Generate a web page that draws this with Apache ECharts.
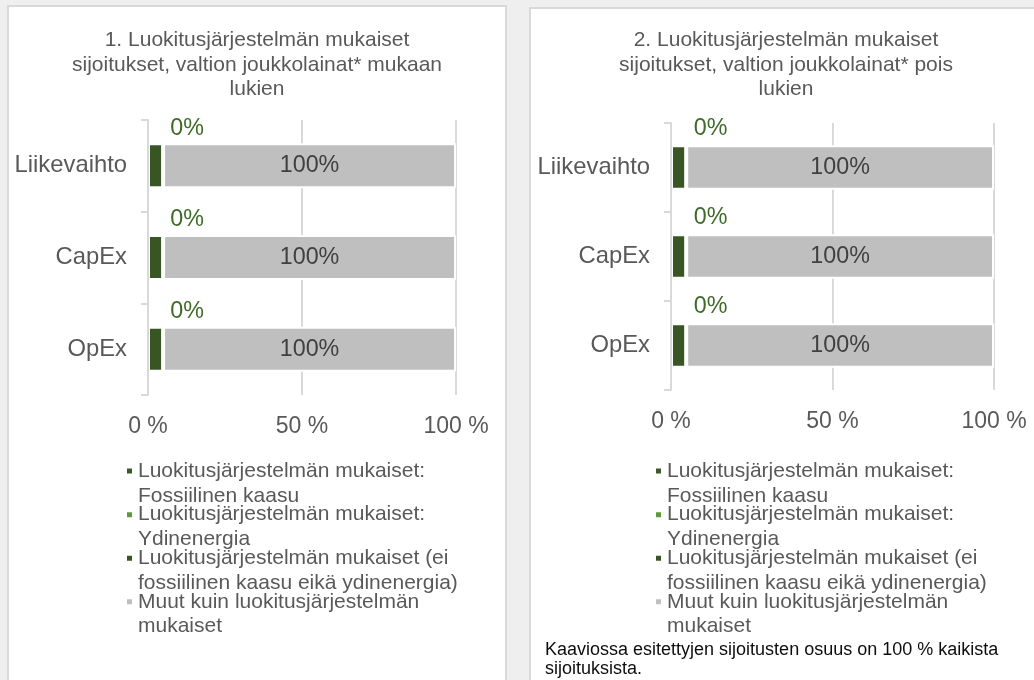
<!DOCTYPE html>
<html>
<head>
<meta charset="utf-8">
<script src="https://cdn.jsdelivr.net/npm/echarts@6/dist/echarts.min.js"></script>
<style>
  html, body { margin: 0; padding: 0; width: 1034px; height: 680px; overflow: hidden; background: #efefef; }
  .panel { position: absolute; box-sizing: border-box; border: 2px solid #d9d9d9; background: #fff; height: 700px; }
  #panel1 { left: 7px; top: 5px; width: 500px; }
  #panel2 { left: 529px; top: 7px; width: 514px; }
  .chart { position: absolute; left: 0; top: 0; width: 100%; height: 680px; }
</style>
</head>
<body>
<div class="panel" id="panel1"><div class="chart" id="chart1"></div></div>
<div class="panel" id="panel2"><div class="chart" id="chart2"></div></div>
<script>
// kategoriat ja sarjat
const categories = ['Liikevaihto', 'CapEx', 'OpEx'];
const seriesNames = [
  'Luokitusjärjestelmän mukaiset:\nFossiilinen kaasu',
  'Luokitusjärjestelmän mukaiset:\nYdinenergia',
  'Luokitusjärjestelmän mukaiset (ei\nfossiilinen kaasu eikä ydinenergia)',
  'Muut kuin luokitusjärjestelmän\nmukaiset',
];
const seriesColors = ['#3a5a26', '#5e9a3c', '#375623', '#bfbfbf'];
const xTicks = [0, 50, 100];

// 1. valtion joukkolainat mukaan lukien
const gas1 = [0, 0, 0];
const nuclear1 = [0, 0, 0];
const aligned1 = [4.9, 4.9, 4.9];
const other1 = [95.1, 95.1, 95.1];
const alignedLabels1 = ['0%', '0%', '0%'];
const otherLabels1 = ['100%', '100%', '100%'];

// 2. valtion joukkolainat pois lukien
const gas2 = [0, 0, 0];
const nuclear2 = [0, 0, 0];
const aligned2 = [4.7, 4.7, 4.7];
const other2 = [95.3, 95.3, 95.3];
const alignedLabels2 = ['0%', '0%', '0%'];
const otherLabels2 = ['100%', '100%', '100%'];

const title1 = '1. Luokitusjärjestelmän mukaiset\nsijoitukset, valtion joukkolainat* mukaan\nlukien';
const title2 = '2. Luokitusjärjestelmän mukaiset\nsijoitukset, valtion joukkolainat* pois\nlukien';
const footnote = 'Kaaviossa esitettyjen sijoitusten osuus on 100 % kaikista\nsijoituksista.';

const FONT = "'Liberation Sans', Arial, sans-serif";
const TEXT = '#595959';
const LINE = '#d9d9d9';

function makeOption(cfg) {
  const values = [cfg.gas, cfg.nuclear, cfg.aligned, cfg.other];
  const series = values.map((data, i) => {
    const s = {
      name: seriesNames[i],
      type: 'bar',
      stack: 'total',
      data,
      barWidth: cfg.barWidth,
      itemStyle: { color: seriesColors[i], borderColor: '#fff', borderWidth: 2 },
      label: { show: false },
      emphasis: { disabled: true },
    };
    if (i === 2) {
      s.label = {
        show: true,
        position: 'top',
        distance: cfg.labelDistance,
        offset: [cfg.labelOffset, 0],
        color: '#3e6b28',
        fontFamily: FONT,
        fontSize: 23.3,
        lineHeight: 24,
        formatter: (p) => cfg.alignedLabels[p.dataIndex],
      };
    }
    if (i === 3) {
      s.label = {
        show: true,
        position: 'inside',
        color: '#404040',
        fontFamily: FONT,
        fontSize: 23.3,
        formatter: (p) => cfg.otherLabels[p.dataIndex],
      };
    }
    return s;
  });

  const titles = [{
    text: cfg.title,
    left: 'center',
    top: cfg.titleTop,
    padding: 0,
    textStyle: { fontFamily: FONT, fontSize: 21, fontWeight: 'normal', color: TEXT, lineHeight: 24.5 },
  }];
  if (cfg.footnote) {
    titles.push({
      text: cfg.footnote,
      left: 14,
      top: 632,
      textAlign: 'left',
      padding: 0,
      textStyle: { fontFamily: FONT, fontSize: 18, fontWeight: 'normal', color: '#0d0d0d', lineHeight: 19 },
    });
  }

  return {
    animation: false,
    title: titles,
    legend: {
      orient: 'vertical',
      left: cfg.legendLeft,
      top: cfg.legendTop,
      padding: 0,
      itemGap: -30.5,
      itemWidth: 7,
      itemHeight: 7,
      icon: 'rect',
      selectedMode: false,
      data: seriesNames,
      // tyhjä rivi ensin, jotta merkki osuu ensimmäisen rivin kohdalle
      formatter: (name) => '\n' + name,
      textStyle: {
        fontFamily: FONT,
        fontSize: 21,
        color: TEXT,
        lineHeight: 24.7,
      },
    },
    grid: {
      left: cfg.grid.left,
      top: cfg.grid.top,
      width: cfg.grid.width,
      height: cfg.grid.height,
      outerBoundsMode: 'none',
    },
    xAxis: {
      type: 'value',
      min: xTicks[0],
      max: xTicks[xTicks.length - 1],
      interval: xTicks[1] - xTicks[0],
      axisLine: { show: false },
      axisTick: { show: false },
      splitLine: { show: true, lineStyle: { color: LINE, width: 2 } },
      axisLabel: {
        margin: 20,
        color: TEXT,
        fontFamily: FONT,
        fontSize: 23,
        formatter: '{value} %',
      },
    },
    yAxis: {
      type: 'category',
      inverse: true,
      data: categories,
      z: 5,
      axisLine: { show: true, lineStyle: { color: LINE, width: 2 } },
      axisTick: { show: true, length: 7, lineStyle: { color: LINE, width: 2 } },
      axisLabel: { margin: 21, color: TEXT, fontFamily: FONT, fontSize: 23.8 },
      splitLine: { show: false },
    },
    series,
  };
}

const chart1 = echarts.init(document.getElementById('chart1'));
chart1.setOption(makeOption({
  title: title1,
  titleTop: 21,
  gas: gas1, nuclear: nuclear1, aligned: aligned1, other: other1,
  alignedLabels: alignedLabels1, otherLabels: otherLabels1,
  grid: { left: 139, top: 113, width: 308, height: 275 },
  barWidth: 45,
  labelDistance: 3,
  labelOffset: 31.5,
  legendLeft: 116,
  legendTop: 427,
}));

const chart2 = echarts.init(document.getElementById('chart2'));
chart2.setOption(makeOption({
  title: title2,
  titleTop: 19,
  footnote,
  gas: gas2, nuclear: nuclear2, aligned: aligned2, other: other2,
  alignedLabels: alignedLabels2, otherLabels: otherLabels2,
  grid: { left: 140, top: 114, width: 323, height: 267 },
  barWidth: 44.5,
  labelDistance: 5,
  labelOffset: 32,
  legendLeft: 123,
  legendTop: 425,
}));

window.addEventListener('resize', () => {
  chart1.resize();
  chart2.resize();
});
</script>
</body>
</html>
